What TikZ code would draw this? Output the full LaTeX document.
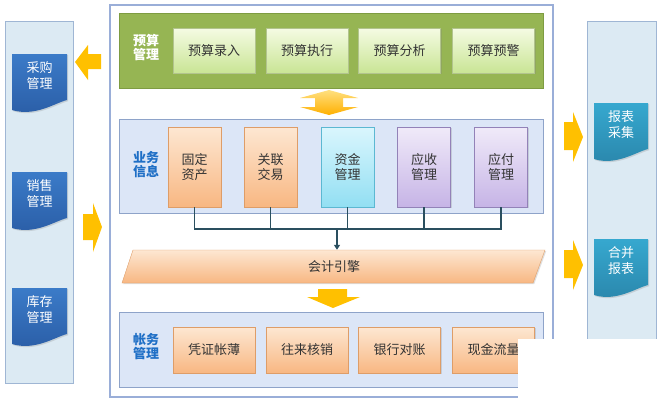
\documentclass[tikz,border=0pt]{standalone}
\usepackage{fontspec}
\setmainfont{Noto Sans CJK SC}
\usetikzlibrary{shadows,arrows.meta}

\definecolor{panelfill}{HTML}{DCEAF3}
\definecolor{panelline}{HTML}{9FB6D4}
\definecolor{mainline}{HTML}{9AAED8}
\definecolor{greenfill}{HTML}{96B553}
\definecolor{greenline}{HTML}{7E9C42}
\definecolor{greentop}{HTML}{F5FBE3}
\definecolor{greenbot}{HTML}{C9E595}
\definecolor{orangetop}{HTML}{FDE7D2}
\definecolor{orangebot}{HTML}{F8B782}
\definecolor{orangeline}{HTML}{DE9D68}
\definecolor{cyantop}{HTML}{DAF6FD}
\definecolor{cyanbot}{HTML}{92DFF3}
\definecolor{cyanline}{HTML}{5CB8D2}
\definecolor{purpletop}{HTML}{F0EAF9}
\definecolor{purplebot}{HTML}{C6B4E6}
\definecolor{purpleline}{HTML}{9382B8}
\definecolor{doctop}{HTML}{3B7BC8}
\definecolor{docbot}{HTML}{2A5DA6}
\definecolor{tealtop}{HTML}{36A8CF}
\definecolor{tealbot}{HTML}{2A86AB}
\definecolor{bizfill}{HTML}{DCE6F7}
\definecolor{bizline}{HTML}{8EA3C9}
\definecolor{labelblue}{HTML}{1F6FC6}
\definecolor{arrowgold}{HTML}{FFC000}
\definecolor{connline}{HTML}{2A4F5F}
\definecolor{txtgray}{HTML}{333333}

\tikzset{
  cjk/.style={font=\fontsize{13pt}{15pt}\selectfont, text=txtgray, align=center},
  softshadow/.style={drop shadow={opacity=0.25, shadow xshift=1.2pt, shadow yshift=-1.2pt}},
  greenbox/.style={cjk, draw=greenline!60, top color=greentop, bottom color=greenbot,
    minimum width=82pt, minimum height=45pt, softshadow},
  orangebox/.style={cjk, draw=orangeline, top color=orangetop, bottom color=orangebot, softshadow},
  cyanbox/.style={cjk, draw=cyanline, top color=cyantop, bottom color=cyanbot, softshadow},
  purplebox/.style={cjk, draw=purpleline, top color=purpletop, bottom color=purplebot, softshadow},
  tallbox/.style={minimum width=53pt, minimum height=80pt},
  widebox/.style={minimum width=82pt, minimum height=46pt},
  grouplabel/.style={font=\fontsize{13pt}{14pt}\selectfont\bfseries, align=center},
  doclabel/.style={font=\fontsize{13pt}{16pt}\selectfont, text=white, align=center},
  conn/.style={draw=connline, line width=1.6pt},
  blockarrow/.style={fill=arrowgold, draw=none}
}

\begin{document}
\begin{tikzpicture}[x=1pt,y=-1pt]
\useasboundingbox (0,0) rectangle (658,400);
% side panels and main frame:
\path[fill=panelfill, draw=panelline, line width=0.8pt] (5,21) rectangle (73,383);
\path[fill=panelfill, draw=panelline, line width=0.8pt] (587,21) rectangle (656,383);
\draw[mainline, line width=1.5pt] (110,5) rectangle (553,397);
% document shapes, left (blue) and right (teal):
\foreach \y/\nm/\txt in {54/caigou/采购\\管理, 172/xiaoshou/销售\\管理, 288/kucun/库存\\管理}{
  \path[top color=doctop, bottom color=docbot, softshadow]
    (12,\y) -- (67,\y) -- (67,\y+46) .. controls (55,\y+49) and (35,\y+63) .. (12,\y+56) -- cycle;
  \node[doclabel] (\nm) at (39.5,\y+22) {\txt};
}
\foreach \y/\nm/\txt in {103/baobiao/报表\\采集, 239/hebing/合并\\报表}{
  \path[top color=tealtop, bottom color=tealbot, softshadow]
    (594,\y) -- (648,\y) -- (648,\y+46) .. controls (636,\y+49) and (616,\y+63) .. (594,\y+56) -- cycle;
  \node[doclabel] (\nm) at (621,\y+22) {\txt};
}
% block arrows:
\path[blockarrow] (101,54) -- (88,54) -- (88,45) -- (75,62) -- (88,80) -- (88,69) -- (101,69) -- cycle;
\path[blockarrow] (83,214) -- (93,214) -- (93,203) -- (102,227) -- (93,252) -- (93,240) -- (83,240) -- cycle;
\path[blockarrow] (564,122) -- (573,122) -- (573,112) -- (583,137) -- (573,162) -- (573,150) -- (564,150) -- cycle;
\path[blockarrow] (564,250) -- (573,250) -- (573,240) -- (583,265) -- (573,290) -- (573,278) -- (564,278) -- cycle;
\path[top color=arrowgold!50, bottom color=arrowgold!75!orange]
  (329,90) -- (358,98) -- (343,98) -- (343,107) -- (358,107) -- (329,115)
  -- (300,107) -- (315,107) -- (315,98) -- (300,98) -- cycle;
\path[blockarrow] (318,289) -- (347,289) -- (347,297) -- (360,297) -- (333,308) -- (307,297) -- (318,297) -- cycle;
% budget group:
\path[fill=greenfill, draw=greenline, line width=0.8pt, softshadow] (119,13) rectangle (543,88);
\node[grouplabel, text=white] (yusuan) at (146,48) {预算\\管理};
\node[greenbox] (ysly) at (214,50.5) {预算录入};
\node[greenbox] (yszx) at (307,50.5) {预算执行};
\node[greenbox] (ysfx) at (399.5,50.5) {预算分析};
\node[greenbox] (ysyj) at (493.5,50.5) {预算预警};
% business group:
\path[fill=bizfill, draw=bizline, line width=0.8pt, softshadow] (119,119) rectangle (543,213);
\node[grouplabel, text=labelblue] (yewu) at (146,165) {业务\\信息};
\node[orangebox, tallbox] (gdzc) at (194.5,167) {固定\\资产};
\node[orangebox, tallbox] (gljy) at (270.5,167) {关联\\交易};
\node[cyanbox, tallbox] (zjgl) at (347.5,167) {资金\\管理};
\node[purplebox, tallbox] (ysgl) at (424,167) {应收\\管理};
\node[purplebox, tallbox] (yfgl) at (501,167) {应付\\管理};
% accounting engine:
\path[top color=orangetop, bottom color=orangebot, draw=orangeline, softshadow]
  (133,250) -- (545,250) -- (533,283) -- (122,283) -- cycle;
\node[cjk, minimum height=33pt] (engine) at (334,266.5) {会计引擎};
\coordinate (bus) at (337,229);
\foreach \b in {gdzc,gljy,zjgl,ysgl,yfgl}
  \draw[conn] (\b.south) |- (bus);
\draw[conn, -{Triangle[length=5pt,width=6pt]}] (bus) -- (bus |- engine.north);
% accounts group:
\path[fill=bizfill, draw=bizline, line width=0.8pt, softshadow] (119,312) rectangle (543,387);
\node[grouplabel, text=labelblue] (zhangwu) at (146,347) {帐务\\管理};
\node[orangebox, widebox] (pzzb) at (214,350) {凭证帐薄};
\node[orangebox, widebox] (wlhx) at (307,350) {往来核销};
\node[orangebox, widebox] (yhdz) at (399.5,350) {银行对账};
\node[orangebox, widebox] (xjll) at (493.5,350) {现金流量};
% white patch over the lower right corner:
\path[fill=white] (518,339) rectangle (658,400);
\end{tikzpicture}
\end{document}
